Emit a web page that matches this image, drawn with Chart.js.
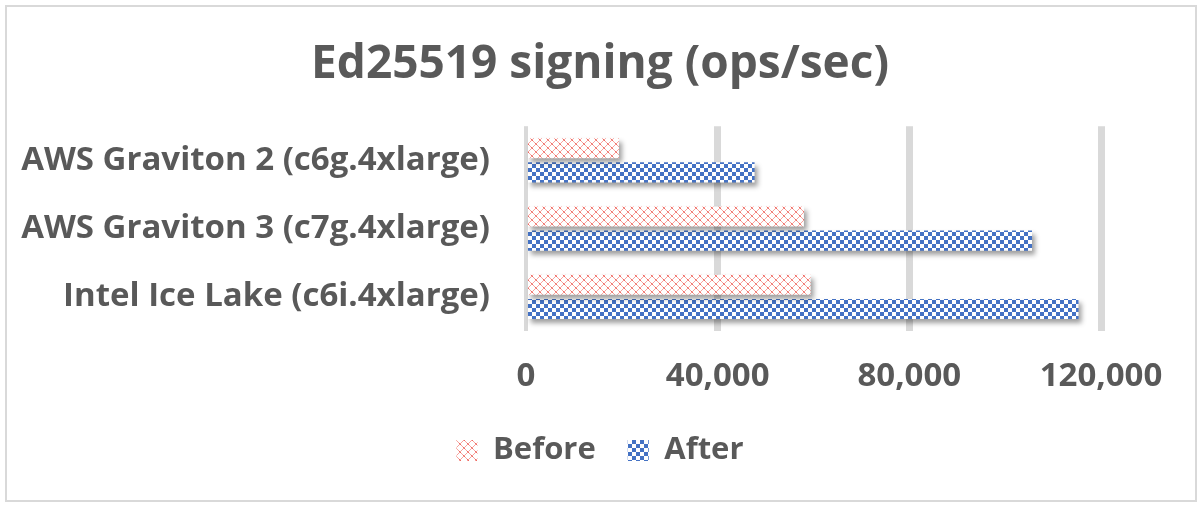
<!DOCTYPE html>
<html>
<head>
<meta charset="utf-8">
<script src="https://cdn.jsdelivr.net/npm/chart.js@4.4.0/dist/chart.umd.min.js"></script>
<style>
  html, body { margin: 0; padding: 0; background: #ffffff; }
  #wrap { position: relative; width: 1200px; height: 507px; }
  #frame { position: absolute; left: 5px; top: 5px; width: 1188px; height: 493px; border: 2px solid #d9d9d9; box-sizing: content-box; pointer-events: none; }
  canvas { position: absolute; left: 0; top: 0; }
</style>
</head>
<body>
<div id="wrap">
  <div id="frame"></div>
  <canvas id="c" width="1200" height="507"></canvas>
</div>
<script>
// ---- data ----
const categories = [
  "AWS Graviton 2 (c6g.4xlarge)",
  "AWS Graviton 3 (c7g.4xlarge)",
  "Intel Ice Lake (c6i.4xlarge)"
];
const seriesNames = ["Before", "After"];
const beforeValues = [19400, 58000, 59400];
const afterValues = [47700, 105600, 115300];
const tickValues = [0, 40000, 80000, 120000];
const chartTitle = "Ed25519 signing (ops/sec)";

// ---- patterns ----
function makeBeforePattern(ctx) {
  const t = document.createElement('canvas');
  t.width = 8; t.height = 8;
  const g = t.getContext('2d');
  g.fillStyle = '#ffffff';
  g.fillRect(0, 0, 8, 8);
  g.fillStyle = '#F7A39E';
  for (let i = 0; i < 8; i++) {
    g.fillRect(i, i, 1, 1);
    g.fillRect(7 - i, i, 1, 1);
  }
  g.fillStyle = '#EE6A62';
  g.fillRect(3, 3, 1, 1); g.fillRect(4, 4, 1, 1);
  g.fillRect(0, 0, 1, 1); g.fillRect(7, 7, 1, 1);
  return ctx.createPattern(t, 'repeat');
}
function makeAfterPattern(ctx) {
  const t = document.createElement('canvas');
  t.width = 8; t.height = 8;
  const g = t.getContext('2d');
  g.fillStyle = '#ffffff';
  g.fillRect(0, 0, 8, 8);
  g.fillStyle = '#4472C4';
  g.fillRect(0, 0, 4, 4);
  g.fillRect(4, 4, 4, 4);
  return ctx.createPattern(t, 'repeat');
}

const canvas = document.getElementById('c');
const ctx = canvas.getContext('2d');
const beforePattern = makeBeforePattern(ctx);
const afterPattern = makeAfterPattern(ctx);

const shadowPlugin = {
  id: 'barShadow',
  beforeDatasetsDraw(chart) {
    const c = chart.ctx;
    c.save();
    c.shadowColor = 'rgba(0,0,0,0.38)';
    c.shadowBlur = 5;
    c.shadowOffsetX = 3;
    c.shadowOffsetY = 4;
  },
  afterDatasetsDraw(chart) {
    chart.ctx.restore();
  }
};

const FONT = "'Open Sans', Lato, sans-serif";
const TEXT = '#595959';

new Chart(ctx, {
  type: 'bar',
  data: {
    labels: categories,
    datasets: [
      { label: seriesNames[0], data: beforeValues, backgroundColor: beforePattern, borderWidth: 0,
        categoryPercentage: 0.706, barPercentage: 0.833 },
      { label: seriesNames[1], data: afterValues, backgroundColor: afterPattern, borderWidth: 0,
        categoryPercentage: 0.706, barPercentage: 0.833 }
    ]
  },
  options: {
    indexAxis: 'y',
    responsive: false,
    animation: false,
    devicePixelRatio: 1,
    layout: { padding: { left: 0, right: 0, top: 0, bottom: 31 } },
    plugins: {
      title: {
        display: true,
        text: chartTitle,
        color: TEXT,
        font: { family: FONT, size: 46, weight: 'bold' },
        padding: { top: 37, bottom: 34 }
      },
      legend: {
        display: true,
        position: 'bottom',
        labels: {
          color: TEXT,
          font: { family: FONT, size: 31, weight: 'bold' },
          boxWidth: 21,
          boxHeight: 21,
          padding: 32
        }
      },
      tooltip: { enabled: false }
    },
    scales: {
      x: {
        min: 0,
        max: 120000,
        afterBuildTicks(scale) { scale.ticks = tickValues.map(v => ({ value: v })); },
        afterFit(scale) { scale.height = 72; },
        ticks: {
          color: TEXT,
          font: { family: FONT, size: 33, weight: 'bold' },
          padding: 26,
          callback: v => Number(v).toLocaleString('en-US')
        },
        grid: {
          color: '#d9d9d9',
          lineWidth: c => (c.index === 0 ? 4 : 7),
          drawTicks: false
        },
        border: { display: false }
      },
      y: {
        afterFit(scale) { scale.width = 526; },
        ticks: {
          color: TEXT,
          font: { family: FONT, size: 33, weight: 'bold' },
          padding: 36
        },
        grid: { display: false, drawTicks: false },
        border: { display: false }
      },
      yRight: {
        type: 'category',
        position: 'right',
        afterFit(scale) { scale.width = 99; },
        ticks: { display: false },
        grid: { display: false, drawTicks: false },
        border: { display: false }
      }
    }
  },
  plugins: [shadowPlugin]
});
</script>
</body>
</html>
